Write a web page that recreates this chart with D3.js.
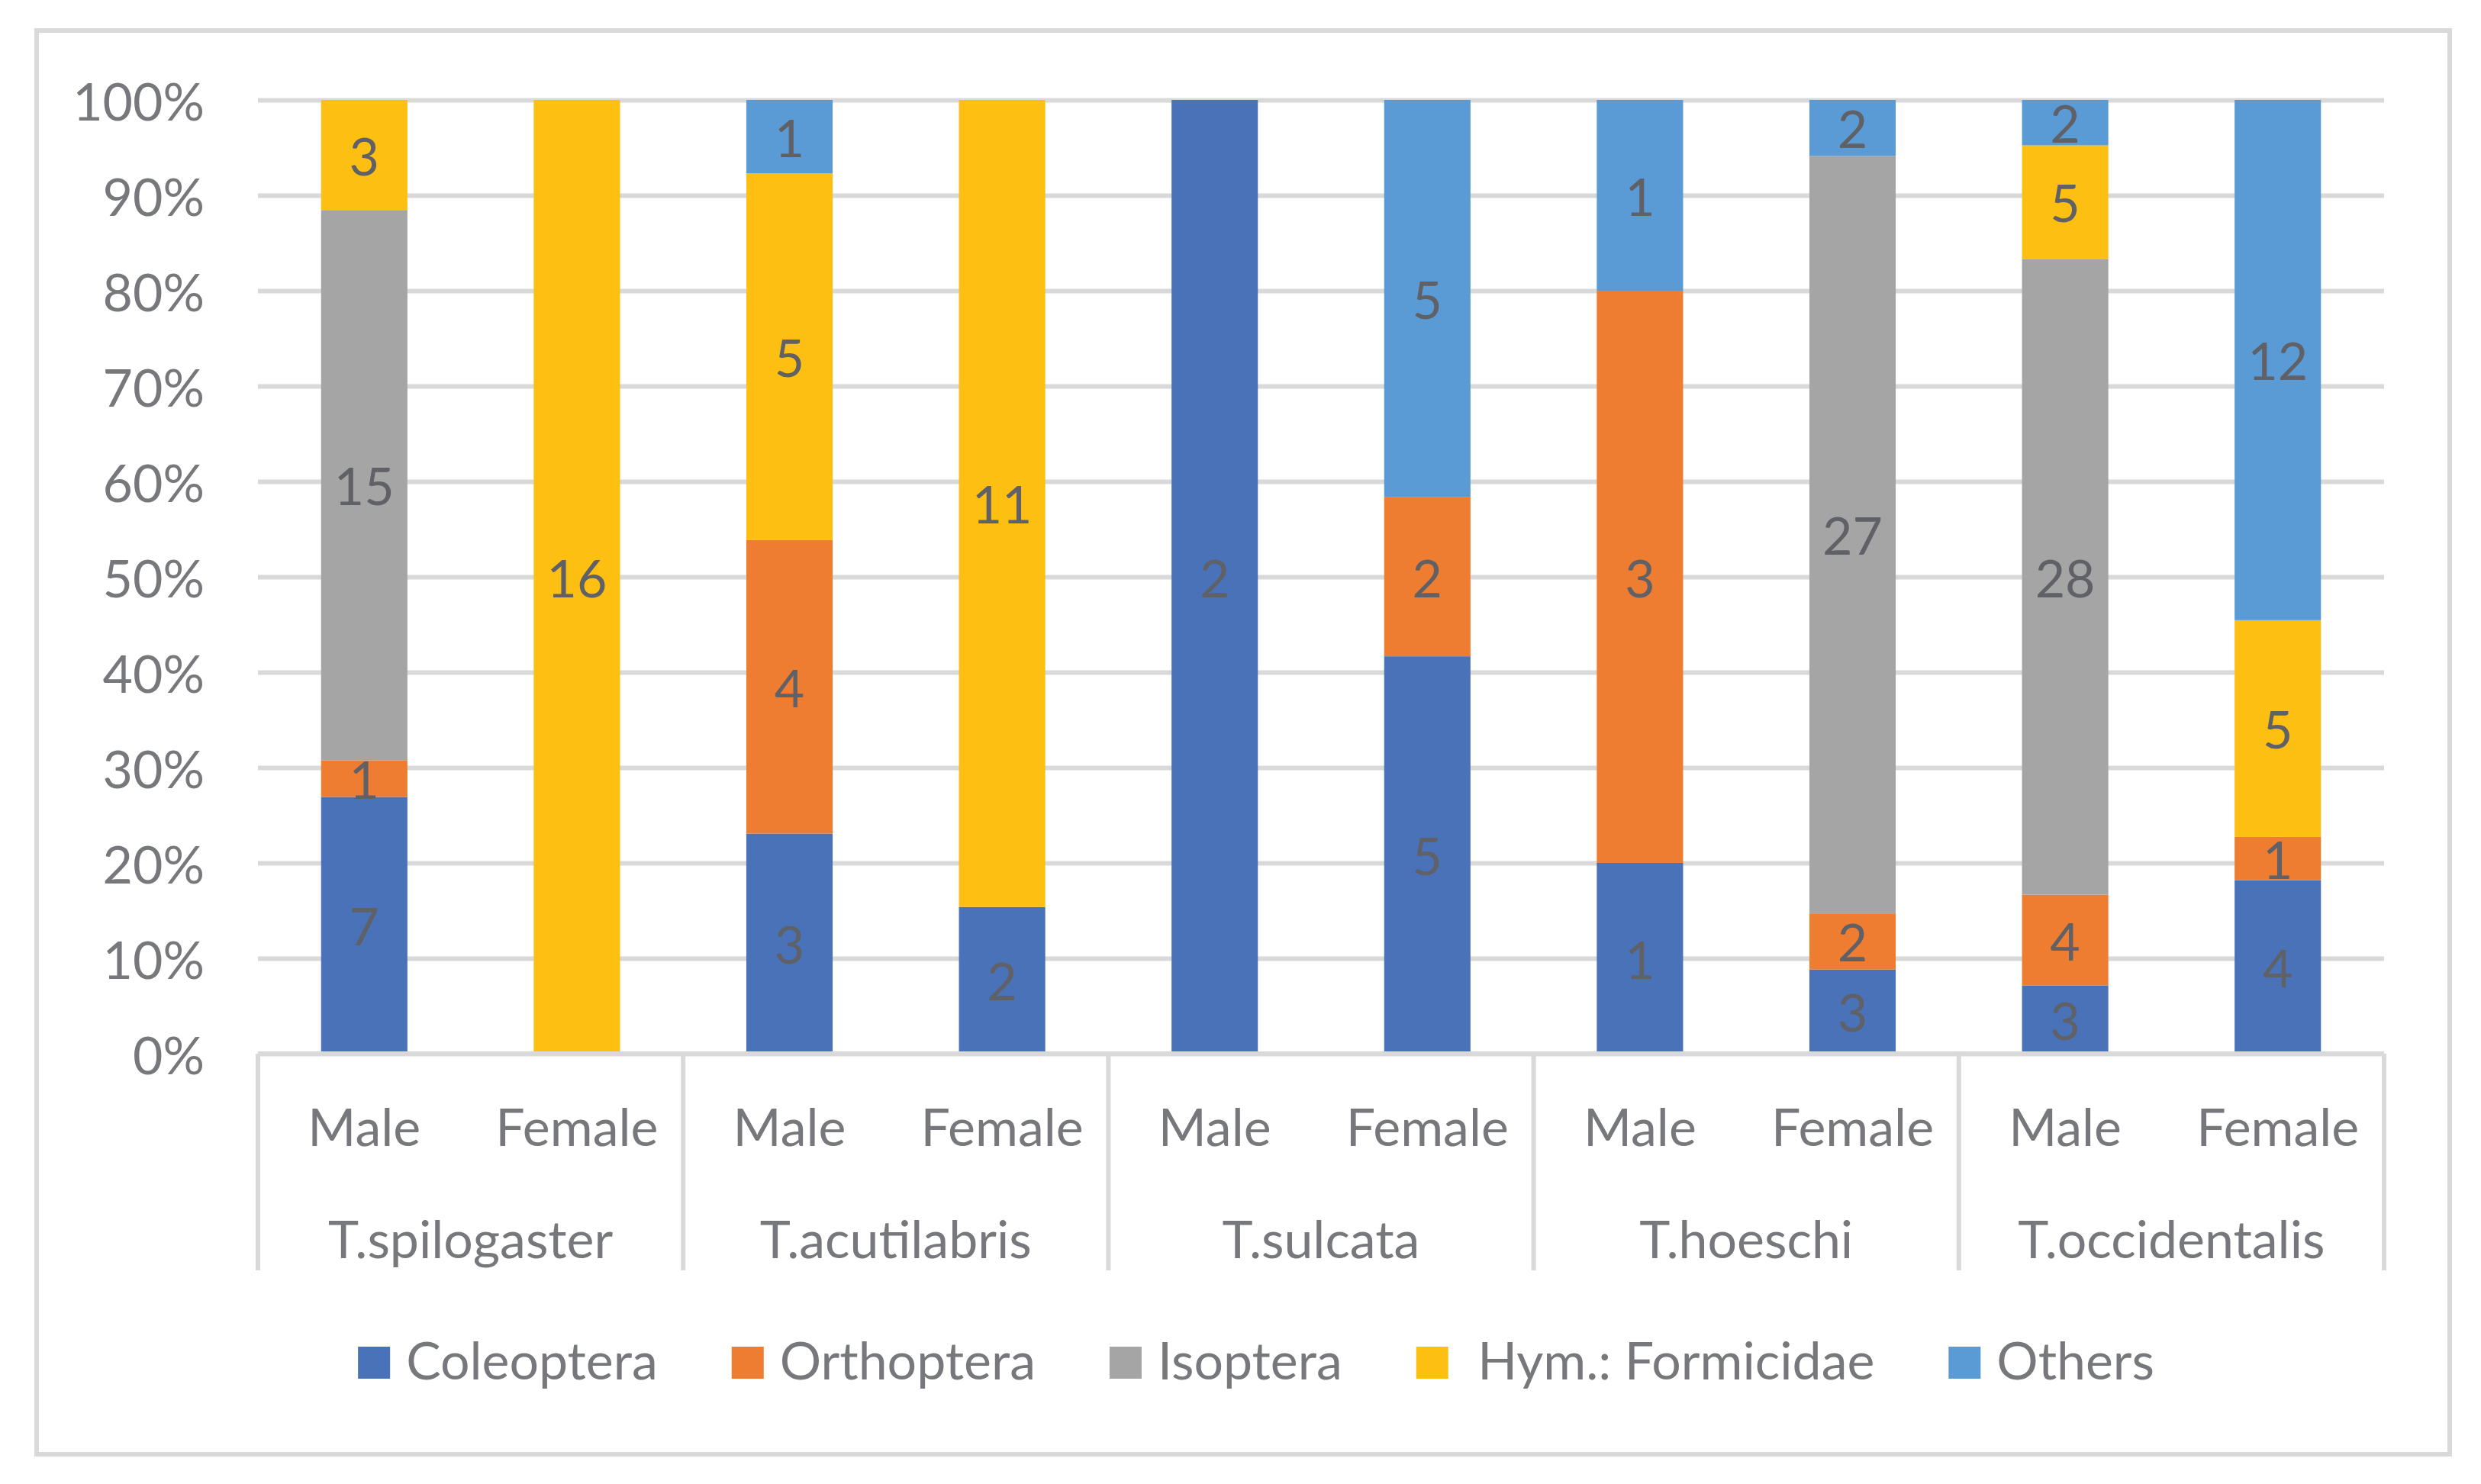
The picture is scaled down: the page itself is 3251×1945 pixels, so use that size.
<!DOCTYPE html>
<html>
<head>
<meta charset="utf-8">
<script src="https://cdn.jsdelivr.net/npm/d3@7"></script>
<style>
  body { margin: 0; background: #fff; }
  text { font-family: Lato, "Open Sans", sans-serif; }
</style>
</head>
<body>
<div id="chart"></div>
<script>
// categories
const species = ['T.spilogaster', 'T.acutilabris', 'T.sulcata', 'T.hoeschi', 'T.occidentalis'];
const sexes = ['Male', 'Female'];
const seriesNames = ['Coleoptera', 'Orthoptera', 'Isoptera', 'Hym.: Formicidae', 'Others'];

// counts per bar, order: spilogaster M/F, acutilabris M/F, sulcata M/F, hoeschi M/F, occidentalis M/F
const coleoptera = [7, 0, 3, 2, 2, 5, 1, 3, 3, 4];
const orthoptera = [1, 0, 4, 0, 0, 2, 3, 2, 4, 1];
const isoptera   = [15, 0, 0, 0, 0, 0, 0, 27, 28, 0];
const formicidae = [3, 16, 5, 11, 0, 0, 0, 0, 5, 5];
const others     = [0, 0, 1, 0, 0, 5, 1, 2, 2, 12];

const yTicks = [0, 0.1, 0.2, 0.3, 0.4, 0.5, 0.6, 0.7, 0.8, 0.9, 1];

const colors = ['#4a72b8', '#ee7d32', '#a5a5a5', '#fdbf12', '#5b9bd5'];

(function () {
    let width = 3251, height = 1945,
        plot = { left: 338, right: 3124, top: 131, bottom: 1381 },
        axisColor = '#d9d9d9',
        textColor = '#77787b',
        labelColor = '#5f6166',
        fontSize = 68;

    let seriesValues = [coleoptera, orthoptera, isoptera, formicidae, others];

    let rows = [];
    species.forEach(function (sp, i) {
        sexes.forEach(function (sx, j) {
            let k = i * 2 + j, row = { key: sp + '|' + sx, species: sp, sex: sx };
            seriesNames.forEach(function (s, n) { row[s] = seriesValues[n][k]; });
            rows.push(row);
        });
    });

    let svg = d3.select('#chart').append('svg')
        .attr('width', width).attr('height', height);

    svg.append('rect')
        .attr('x', 48).attr('y', 40)
        .attr('width', 3162).attr('height', 1866)
        .attr('fill', '#fff')
        .attr('stroke', axisColor).attr('stroke-width', 6);

    let x = d3.scaleBand()
        .domain(rows.map(function (d) { return d.key; }))
        .range([plot.left, plot.right])
        .paddingInner(0.594).paddingOuter(0.297);

    let xGroup = d3.scaleBand()
        .domain(species)
        .range([plot.left, plot.right]);

    let y = d3.scaleLinear().domain([0, 1]).range([plot.bottom, plot.top]);

    // gridlines + percent labels
    let yAxis = svg.append('g')
        .attr('transform', 'translate(' + plot.left + ',0)')
        .call(d3.axisLeft(y)
            .tickValues(yTicks)
            .tickSize(-(plot.right - plot.left))
            .tickPadding(70)
            .tickFormat(d3.format('.0%')));
    yAxis.select('.domain').remove();
    yAxis.selectAll('.tick line').attr('stroke', axisColor).attr('stroke-width', 6);
    yAxis.selectAll('.tick text')
        .attr('fill', textColor)
        .attr('font-size', fontSize)
        .attr('dy', null)
        .attr('dominant-baseline', 'central');

    let stack = d3.stack().keys(seriesNames).offset(d3.stackOffsetExpand);
    let layers = stack(rows);

    let groups = svg.selectAll('g.layer').data(layers).enter().append('g')
        .attr('class', 'layer')
        .attr('fill', function (d, i) { return colors[i]; });

    groups.selectAll('rect').data(function (d) { return d; }).enter().append('rect')
        .attr('x', function (d) { return x(d.data.key); })
        .attr('width', x.bandwidth())
        .attr('y', function (d) { return y(d[1]); })
        .attr('height', function (d) { return y(d[0]) - y(d[1]); });

    // data labels, zeros left out
    layers.forEach(function (layer) {
        svg.append('g').selectAll('text')
            .data(layer.filter(function (d) { return d.data[layer.key] > 0; }))
            .enter().append('text')
            .attr('x', function (d) { return x(d.data.key) + x.bandwidth() / 2; })
            .attr('y', function (d) { return y((d[0] + d[1]) / 2); })
            .attr('text-anchor', 'middle')
            .attr('dominant-baseline', 'central')
            .attr('font-size', fontSize)
            .attr('fill', labelColor)
            .text(function (d) { return d.data[layer.key]; });
    });

    // category axis: line, separators, two label levels
    let sepBottom = 1665;
    svg.append('line')
        .attr('x1', plot.left).attr('x2', plot.right)
        .attr('y1', plot.bottom).attr('y2', plot.bottom)
        .attr('stroke', axisColor).attr('stroke-width', 6);

    let seps = species.map(function (s) { return xGroup(s); }).concat([plot.right]);
    svg.append('g').selectAll('line').data(seps).enter().append('line')
        .attr('x1', function (d) { return d; }).attr('x2', function (d) { return d; })
        .attr('y1', plot.bottom).attr('y2', sepBottom)
        .attr('stroke', axisColor).attr('stroke-width', 6);

    svg.append('g').selectAll('text').data(rows).enter().append('text')
        .attr('x', function (d) { return x(d.key) + x.bandwidth() / 2; })
        .attr('y', 1502)
        .attr('text-anchor', 'middle')
        .attr('font-size', fontSize)
        .attr('fill', textColor)
        .text(function (d) { return d.sex; });

    svg.append('g').selectAll('text').data(species).enter().append('text')
        .attr('x', function (d) { return xGroup(d) + xGroup.bandwidth() / 2; })
        .attr('y', 1649)
        .attr('text-anchor', 'middle')
        .attr('font-size', fontSize)
        .attr('fill', textColor)
        .text(function (d) { return d; });

    // legend
    let legend = svg.append('g'),
        box = 42, boxGap = 21, itemGap = 97, legendY = 1808, cx = 0;

    seriesNames.forEach(function (name, i) {
        let item = legend.append('g').attr('transform', 'translate(' + cx + ',0)');
        item.append('rect')
            .attr('x', 0).attr('y', legendY - 43)
            .attr('width', box).attr('height', box)
            .attr('fill', colors[i]);
        let label = (i === 3 ? ' ' : '') + name;
        let t = item.append('text')
            .attr('x', box + boxGap).attr('y', legendY)
            .attr('font-size', fontSize)
            .attr('fill', textColor)
            .style('white-space', 'pre')
            .text(label);
        cx += box + boxGap + t.node().getComputedTextLength() + itemGap;
    });
    let legendWidth = cx - itemGap;
    legend.attr('transform', 'translate(' + (1646 - legendWidth / 2) + ',0)');
})();
</script>
</body>
</html>
